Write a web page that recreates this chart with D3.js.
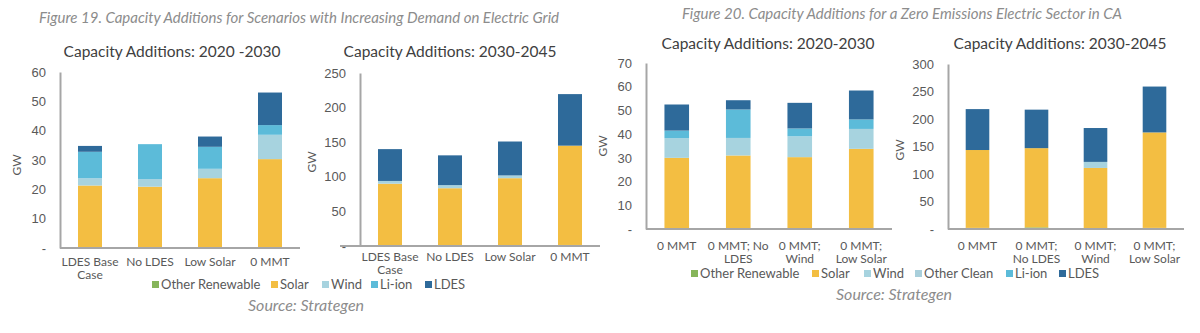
<!DOCTYPE html>
<html lang="en">
<head>
  <meta charset="UTF-8" />
  <title>Capacity Additions</title>
  <script src="https://d3js.org/d3.v7.min.js"></script>
  <style>
    body { margin: 0; background: #fff; }
    svg { display: block; font-family: Lato, "Noto Sans", sans-serif; }
    .tick text { fill: #595959; font-size: 13px; }
    .xlab { fill: #595959; font-size: 12px; }
    .fig { fill: #8c8c8c; font-size: 15px; font-style: italic; }
    .src { fill: #8c8c8c; font-size: 16px; font-style: italic; }
    .sub { fill: #404040; font-size: 15.5px; }
    .leg { fill: #595959; font-size: 13px; }
  </style>
</head>
<body>
  <svg width="1200" height="333"></svg>
  <script>
    // colours per technology
    const colors = {
      "Other Renewable": "#86b55a",
      "Solar": "#f3be42",
      "Wind": "#a7d3df",
      "Other Clean": "#a9cfdb",
      "Li-ion": "#5cbbd9",
      "LDES": "#2e6a9a"
    };
    const keys = ["Other Renewable", "Solar", "Wind", "Other Clean", "Li-ion", "LDES"];

    // Figure 19 data
    const fig19Categories = [["LDES Base", "Case"], ["No LDES"], ["Low Solar"], ["0 MMT"]];
    const fig19a = {
      "Other Renewable": [0, 0, 0, 0],
      "Solar": [21.3, 20.9, 23.8, 30.3],
      "Wind": [2.5, 2.6, 3.2, 8.3],
      "Li-ion": [9.0, 11.9, 7.5, 3.3],
      "LDES": [2.0, 0, 3.5, 11.1]
    };
    const fig19b = {
      "Other Renewable": [0, 0, 0, 1.5],
      "Solar": [90, 83.5, 98, 143.5],
      "Wind": [4, 4.5, 4, 0],
      "Li-ion": [0, 0, 0, 0],
      "LDES": [46, 43, 49, 74.5]
    };

    // Figure 20 data
    const fig20aCategories = [["0 MMT"], ["0 MMT; No", "LDES"], ["0 MMT;", "Wind"], ["0 MMT;", "Low Solar"]];
    const fig20bCategories = [["0 MMT"], ["0 MMT;", "No LDES"], ["0 MMT;", "Wind"], ["0 MMT;", "Low Solar"]];
    const fig20a = {
      "Other Renewable": [0, 0, 0, 0],
      "Solar": [30, 31, 30.3, 33.8],
      "Wind": [8.3, 7.4, 8.8, 8.4],
      "Li-ion": [3.2, 12, 3.3, 4],
      "LDES": [11, 3.9, 10.8, 12.2]
    };
    const fig20b = {
      "Other Renewable": [2, 3, 0, 2],
      "Solar": [141.6, 144, 111, 173.6],
      "Wind": [0, 0, 11, 0],
      "Li-ion": [0, 0, 0, 0],
      "LDES": [74.4, 70, 61.6, 83.4]
    };

    const svg = d3.select("svg");

    function drawPanel(o) {
      const g = svg.append("g");
      const rows = o.categories.map((c, i) => {
        const r = { cat: c.join(" "), lines: c };
        keys.forEach(k => r[k] = (o.data[k] ? o.data[k][i] : 0));
        return r;
      });
      const x = d3.scaleBand().domain(rows.map(r => r.cat))
        .range(o.xr).paddingInner(0.6).paddingOuter(0.3);
      const y = d3.scaleLinear().domain([0, o.max]).range(o.yr);
      const series = d3.stack().keys(keys)(rows);

      g.selectAll("g.s").data(series).join("g")
        .attr("fill", d => colors[d.key])
        .selectAll("rect").data(d => d).join("rect")
        .attr("x", d => x(d.data.cat))
        .attr("width", x.bandwidth())
        .attr("y", d => y(d[1]))
        .attr("height", d => Math.max(0, y(d[0]) - y(d[1])));

      // y axis
      const ya = g.append("g").attr("transform", `translate(${o.xr[0]},0)`)
        .call(d3.axisLeft(y).tickValues(d3.range(0, o.max + 1, o.step))
          .tickFormat(v => v === 0 ? "-" : v).tickSize(0).tickPadding(14));
      ya.select(".domain").attr("stroke", "#a6a6a6").attr("stroke-width", 2);

      // baseline
      g.append("line")
        .attr("x1", o.xr[0] - o.leftExt).attr("x2", o.xr[1])
        .attr("y1", y(0)).attr("y2", y(0))
        .attr("stroke", "#a6a6a6").attr("stroke-width", 2);

      // x labels
      rows.forEach(r => {
        r.lines.forEach((t, j) => {
          g.append("text").attr("class", "xlab")
            .attr("x", x(r.cat) + x.bandwidth() / 2)
            .attr("y", o.labY + j * o.lh)
            .attr("text-anchor", "middle").text(t);
        });
      });

      g.append("text").attr("class", "sub")
        .attr("x", o.titleX).attr("y", o.titleY)
        .attr("text-anchor", "middle").text(o.title);

      g.append("text").attr("class", "xlab")
        .attr("transform", `translate(${o.gwX},${o.gwY}) rotate(-90)`)
        .attr("text-anchor", "middle").text("GW");
    }

    drawPanel({ categories: fig19Categories, data: fig19a, max: 60, step: 10,
      xr: [60, 300], yr: [248, 72], leftExt: 0, labY: 266, lh: 13,
      title: "Capacity Additions: 2020 -2030", titleX: 172, titleY: 57, gwX: 21, gwY: 165 });
    drawPanel({ categories: fig19Categories, data: fig19b, max: 250, step: 50,
      xr: [360, 600], yr: [246, 73], leftExt: 20, labY: 261, lh: 13,
      title: "Capacity Additions: 2030-2045", titleX: 450, titleY: 57, gwX: 316, gwY: 162 });
    drawPanel({ categories: fig20aCategories, data: fig20a, max: 70, step: 10,
      xr: [646, 892], yr: [229, 63], leftExt: 0, labY: 250, lh: 13,
      title: "Capacity Additions: 2020-2030", titleX: 768, titleY: 49, gwX: 607, gwY: 146 });
    drawPanel({ categories: fig20bCategories, data: fig20b, max: 300, step: 50,
      xr: [948, 1184], yr: [229, 64], leftExt: 0, labY: 250, lh: 13,
      title: "Capacity Additions: 2030-2045", titleX: 1060, titleY: 49, gwX: 904, gwY: 150 });

    // figure captions
    svg.append("text").attr("class", "fig").attr("x", 299).attr("y", 23)
      .attr("text-anchor", "middle")
      .text("Figure 19. Capacity Additions for Scenarios with Increasing Demand on Electric Grid");
    svg.append("text").attr("class", "fig").attr("x", 902).attr("y", 19)
      .attr("text-anchor", "middle")
      .text("Figure 20. Capacity Additions for a Zero Emissions Electric Sector in CA");

    // legends
    function legend(items, xs, yy) {
      items.forEach((k, i) => {
        svg.append("rect").attr("x", xs[i]).attr("y", yy - 8)
          .attr("width", 7).attr("height", 7).attr("fill", colors[k]);
        svg.append("text").attr("class", "leg").attr("x", xs[i] + 9).attr("y", yy)
          .text(k);
      });
    }
    legend(["Other Renewable", "Solar", "Wind", "Li-ion", "LDES"],
      [152, 271, 322, 371, 425], 289);
    legend(["Other Renewable", "Solar", "Wind", "Other Clean", "Li-ion", "LDES"],
      [691, 812, 864, 915, 1006, 1059], 278);

    svg.append("text").attr("class", "src").attr("x", 248).attr("y", 311).text("Source: Strategen");
    svg.append("text").attr("class", "src").attr("x", 836).attr("y", 300).text("Source: Strategen");
  </script>
</body>
</html>
